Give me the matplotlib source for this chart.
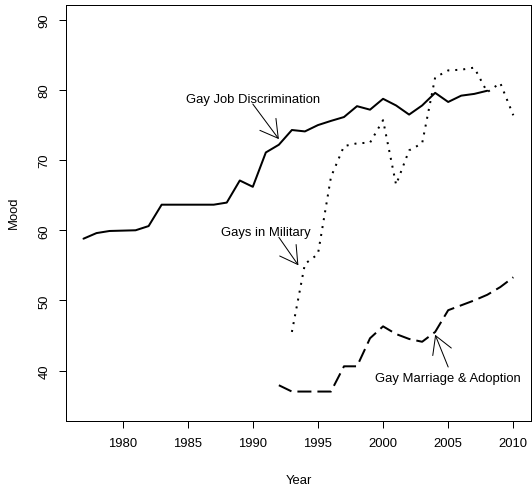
import matplotlib
matplotlib.use("Agg")
import matplotlib.pyplot as plt

# ---- data ----
job_years = list(range(1977, 2009))
job_mood = [58.8, 59.6, 59.9, 59.95, 60.0, 60.6, 63.65, 63.65, 63.65, 63.65, 63.65, 63.95,
            67.1, 66.2, 71.1, 72.2, 74.3, 74.1, 75.0, 75.6, 76.15, 77.7, 77.2, 78.75,
            77.8, 76.5, 77.8, 79.6, 78.3, 79.2, 79.45, 79.9]

mil_years = list(range(1993, 2011))
mil_mood = [45.5, 55.2, 56.6, 67.6, 72.0, 72.4, 72.5, 75.7, 66.5, 71.4, 72.4, 81.8,
            82.8, 82.9, 83.2, 79.7, 81.0, 76.4]

mar_years = list(range(1992, 2011))
mar_mood = [37.9, 37.0, 37.0, 37.0, 37.0, 40.6, 40.6, 44.6, 46.3, 45.2, 44.5, 44.1,
            45.5, 48.6, 49.3, 50.0, 50.8, 51.9, 53.3]

x_ticks = [1980, 1985, 1990, 1995, 2000, 2005, 2010]
y_ticks = [40, 50, 60, 70, 80, 90]

labels = ["Gay Job Discrimination", "Gays in Military", "Gay Marriage & Adoption"]
label_xy = [(1990, 79), (1991, 60), (2005, 39.1)]
arrow_from = [(1990, 78), (1992, 59), (2005, 40.5)]
arrow_to = [(1992, 73), (1993.5, 55), (2004, 45.1)]

# ---- figure ----
W, H = 532, 489
fig = plt.figure(figsize=(W / 100, H / 100), dpi=100)
plt.rcParams['font.family'] = ['Liberation Sans', 'DejaVu Sans']
FS = 9.36
px = 0.72  # points per pixel

left, right, top, bottom = 66.3, 530.5, 5.5, 422.0
ax = fig.add_axes([left / W, (H - bottom) / H, (right - left) / W, (bottom - top) / H])

lw = 2 * px
ax.plot(job_years, job_mood, color='black', lw=lw, solid_capstyle='round', solid_joinstyle='round')
ax.plot(mil_years, mil_mood, color='black', lw=lw, linestyle=(0, (1, 3)))
ax.plot(mar_years, mar_mood, color='black', lw=lw, linestyle=(0, (7, 3)))

for (lab, (tx, ty), a0, a1) in zip(labels, label_xy, arrow_from, arrow_to):
    ax.text(tx, ty - 0.66, lab, ha='center', va='baseline', fontsize=FS)
    ax.annotate('', xy=a1, xytext=a0,
                arrowprops=dict(arrowstyle='->,head_length=12.5,head_width=7.2',
                                mutation_scale=1,
                                lw=1 * px, color='black', shrinkA=0, shrinkB=0))

ax.set_xlim(1975.68, 2011.32)
ax.set_ylim(32.8, 92.2)
ax.set_xticks(x_ticks)
ax.set_yticks(y_ticks)
ax.set_xticklabels([str(v) for v in x_ticks], fontsize=FS)
ax.set_yticklabels([str(v) for v in y_ticks], fontsize=FS, rotation=90, va='center')
ax.tick_params(direction='out', length=7.2 * px, width=1 * px, pad=8.5 * px, colors='black')
for s in ax.spines.values():
    s.set_linewidth(1 * px)
    s.set_color('black')

fig.text(13.5 / W, 1 - 213 / H, 'Mood', rotation=90, ha='center', va='center', fontsize=FS)
fig.text((left + right) / 2 / W, 1 - 481.5 / H, 'Year', ha='center', va='center', fontsize=FS)

fig.savefig('out.png', dpi=100)
